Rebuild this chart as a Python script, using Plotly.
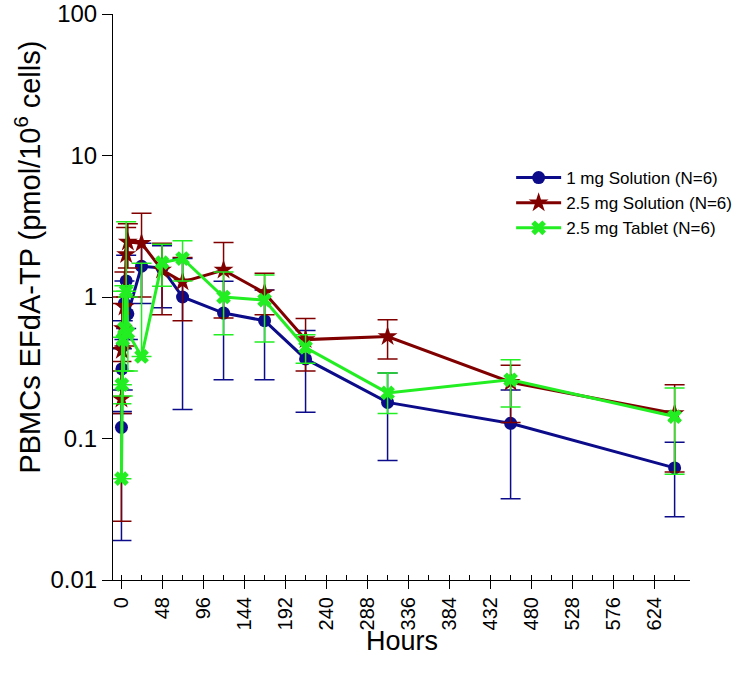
import plotly.graph_objects as go

hours = [0.5, 1, 2, 4, 6, 8, 24, 48, 72, 120, 168, 216, 312, 456, 648]

blue_mean = [0.12, 0.31, 0.45, 0.9, 1.3, 0.76, 1.65, 1.6, 1.0, 0.77, 0.68, 0.365, 0.18, 0.128, 0.062]
blue_upper = [0.15, 0.43, 0.68, 1.3, 1.97, 1.0, 2.4, 2.3, 1.87, 1.29, 1.12, 0.58, 0.29, 0.22, 0.094]
blue_lower = [0.019, 0.155, 0.22, 0.5, 0.6, 0.5, 0.9, 0.84, 0.16, 0.26, 0.26, 0.153, 0.07, 0.0375, 0.028]

red_mean = [0.19, 0.42, 0.6, 0.85, 2.0, 2.45, 2.4, 1.55, 1.28, 1.55, 1.07, 0.50, 0.525, 0.25, 0.15]
red_upper = [0.35, 0.9, 1.0, 1.5, 3.1, 3.3, 3.9, 2.4, 1.9, 2.43, 1.47, 0.705, 0.69, 0.33, 0.24]
red_lower = [0.026, 0.15, 0.3, 0.45, 1.0, 1.6, 1.0, 0.75, 0.68, 0.71, 0.75, 0.30, 0.365, 0.13, 0.058]

green_mean = [0.052, 0.24, 0.5, 0.6, 1.1, 0.56, 0.38, 1.75, 1.87, 1.0, 0.95, 0.44, 0.21, 0.26, 0.143]
green_upper = [0.176, 0.52, 1.1, 1.2, 3.4, 1.0, 1.73, 2.36, 2.5, 1.5, 1.43, 0.54, 0.29, 0.36, 0.227]
green_lower = [None, None, 0.2, 0.3, None, 0.3, None, 1.19, 1.3, 0.54, 0.48, 0.34, 0.15, 0.167, 0.056]

x_ticks = list(range(0, 625, 48))
y_ticks = [0.01, 0.1, 1, 10, 100]
y_ticktext = ["0.01", "0.1", "1", "10", "100"]

series = [
    ("1 mg Solution (N=6)", blue_mean, blue_upper, blue_lower, "#0c0c8a", "circle", 13),
    ("2.5 mg Solution (N=6)", red_mean, red_upper, red_lower, "#800000", "star", 15),
    ("2.5 mg Tablet (N=6)", green_mean, green_upper, green_lower, "#22ee22", "x", 13),
]

fig = go.Figure()
for name, m, up, lo, col, sym, size in series:
    plus = [u - v for u, v in zip(up, m)]
    minus = [(v - l) if l is not None else 0 for v, l in zip(m, lo)]
    fig.add_trace(go.Scatter(
        x=hours, y=m, name=name, mode="lines+markers",
        line=dict(color=col, width=3),
        marker=dict(color=col, symbol=sym, size=size, line=dict(width=0)),
        error_y=dict(type="data", symmetric=False, array=plus, arrayminus=minus,
                     color=col, thickness=1.5, width=10),
    ))

font = "Liberation Sans, Arial, sans-serif"
fig.update_layout(
    width=735, height=677,
    margin=dict(l=113, r=45, t=14, b=97, autoexpand=False),
    paper_bgcolor="white", plot_bgcolor="white",
    font=dict(family=font, color="black", size=22),
    showlegend=True,
    legend=dict(x=0.69, y=0.742, xanchor="left", yanchor="top", itemwidth=45,
                font=dict(size=17), bgcolor="rgba(0,0,0,0)", tracegroupgap=0),
    xaxis=dict(
        range=[-9.4, 666], tickmode="array", tickvals=x_ticks, automargin=False,
        tickangle=-90, ticks="outside", ticklen=8, tickwidth=1, tickcolor="black",
        showline=True, linecolor="black", linewidth=1, showgrid=False, zeroline=False,
        minor=dict(ticks="inside", dtick=24, tick0=0, ticklen=5, tickcolor="black", showgrid=False),
        tickfont=dict(size=20),
    ),
    yaxis=dict(
        type="log", range=[-2, 2], tickmode="array", tickvals=y_ticks, ticktext=y_ticktext,
        automargin=False,
        ticks="outside", ticklen=10, tickwidth=1, tickcolor="black",
        showline=True, linecolor="black", linewidth=1, showgrid=False, zeroline=False,
        tickfont=dict(size=24), ticklabeloverflow="allow",
    ),
    annotations=[
        dict(text="Hours", xref="paper", yref="paper", x=0.5, y=-0.107,
             xanchor="center", yanchor="middle", showarrow=False, font=dict(size=27)),
        dict(text="PBMCs EFdA-TP (pmol/10<sup>6</sup> cells)", xref="paper", yref="paper",
             x=-0.147, y=0.57, xanchor="center", yanchor="middle", textangle=-90,
             showarrow=False, font=dict(size=29)),
    ],
)

fig.write_html("out.html")
